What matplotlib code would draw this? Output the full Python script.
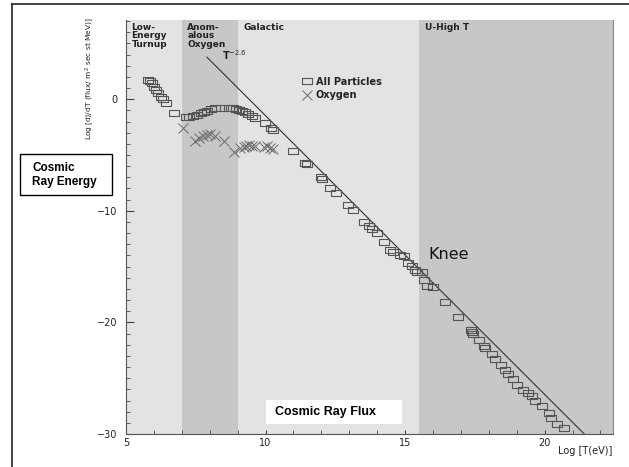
import matplotlib.pyplot as plt
from matplotlib.patches import Rectangle
from matplotlib.lines import Line2D
from matplotlib.ticker import MultipleLocator

# all particles, log10 T(eV) vs log flux
all_T = [5.80, 5.86, 5.92, 6.00, 6.08, 6.16, 6.24, 6.34, 6.43, 6.72,
         7.15, 7.27, 7.41, 7.53, 7.68, 7.80, 7.91, 8.04, 8.19, 8.39,
         8.70, 8.85, 8.94, 9.04, 9.15, 9.27, 9.38, 9.51, 9.62, 9.98,
         10.19, 10.26, 10.97, 11.42, 11.48, 11.98, 12.03, 12.31, 12.53, 12.97,
         13.13, 13.51, 13.69, 13.81, 13.99, 14.25, 14.46, 14.58, 14.82, 14.96,
         15.12, 15.24, 15.36, 15.44, 15.60, 15.68, 15.78, 16.01, 16.44, 16.90,
         17.35, 17.40, 17.45, 17.66, 17.83, 17.87, 18.11, 18.23, 18.43, 18.58,
         18.70, 18.88, 19.00, 19.22, 19.42, 19.54, 19.66, 19.90, 20.14, 20.22,
         20.44, 20.70]
all_flux = [1.73, 1.60, 1.43, 1.13, 0.83, 0.54, 0.23, 0.00, -0.30, -1.26,
            -1.61, -1.56, -1.47, -1.38, -1.26, -1.14, -1.02, -0.90, -0.81, -0.75,
            -0.75, -0.81, -0.87, -0.93, -1.02, -1.17, -1.32, -1.50, -1.70, -2.10,
            -2.60, -2.75, -4.61, -5.69, -5.85, -7.00, -7.15, -7.98, -8.43, -9.51,
            -9.93, -10.98, -11.36, -11.66, -12.02, -12.77, -13.52, -13.67, -13.96, -14.05,
            -14.71, -14.95, -15.31, -15.46, -15.46, -16.21, -16.74, -16.86, -18.15, -19.50,
            -20.69, -20.90, -21.08, -21.59, -22.13, -22.33, -22.84, -23.29, -23.83, -24.28,
            -24.66, -25.11, -25.62, -26.07, -26.37, -26.61, -27.03, -27.51, -28.16, -28.61,
            -29.12, -29.42]

oxy_T = [7.05, 7.47, 7.60, 7.75, 7.90, 8.02, 8.20, 8.52, 8.86, 9.10,
         9.22, 9.30, 9.40, 9.52, 9.62, 9.95, 10.05, 10.15, 10.25]
oxy_flux = [-2.60, -3.70, -3.50, -3.30, -3.20, -3.10, -3.30, -3.75, -4.75, -4.40,
            -4.30, -4.20, -4.10, -4.20, -4.20, -4.25, -4.20, -4.35, -4.45]

# T^-2.6 power-law guide
guide_T = [7.9, 21.42]
guide_flux = [3.77, -30.0]

# energy regions
region_edges = [(5, 7), (7, 9), (9, 15.5), (15.5, 22.45)]
region_names = ["Low-\nEnergy\nTurnup", "Anom-\nalous\nOxygen", "Galactic", "U-High T"]
region_colors = ["#e3e3e3", "#c7c7c7", "#e3e3e3", "#c7c7c7"]

fig = plt.figure(figsize=(6.29, 4.67), dpi=100)
ax = fig.add_axes([0.2003, 0.0707, 0.7743, 0.8865])

for (a, b), name, c in zip(region_edges, region_names, region_colors):
    ax.axvspan(a, b, color=c, lw=0, zorder=0)
    ax.text(a + 0.2, 6.85, name, fontsize=6.5, fontweight="bold", color="#222222",
            va="top", ha="left", linespacing=0.92, family="DejaVu Sans")

rect = [(-1, -0.65), (1, -0.65), (1, 0.65), (-1, 0.65), (-1, -0.65)]
ax.plot(all_T, all_flux, ls="none", marker=rect, ms=6.5, mfc="none", mec="#555555",
        mew=0.8, label="All Particles", zorder=3)
ax.plot(oxy_T, oxy_flux, ls="none", marker="x", ms=6.5, mec="#6a6a6a", mew=0.7,
        label="Oxygen", zorder=3)
ax.plot(guide_T, guide_flux, color="#333333", lw=0.8, zorder=2)

ax.text(8.44, 3.5, r"T$^{-2.6}$", fontsize=7, fontweight="bold", color="#222222",
        family="DejaVu Sans")
ax.text(15.82, -14.3, "Knee", fontsize=11.5, color="#111111", family="DejaVu Sans")

leg = ax.legend(loc="upper left", bbox_to_anchor=(0.352, 0.875), frameon=False,
                handlelength=1.0, handletextpad=0.4, labelspacing=0.35, borderpad=0,
                prop={"family": "DejaVu Sans", "weight": "bold", "size": 7})
for t in leg.get_texts():
    t.set_color("#222222")

ax.set_xlim(5, 22.45)
ax.set_ylim(-30, 7.1)
ax.xaxis.set_major_locator(MultipleLocator(5))
ax.xaxis.set_minor_locator(MultipleLocator(1))
ax.yaxis.set_major_locator(MultipleLocator(10))
ax.yaxis.set_minor_locator(MultipleLocator(1))
ax.tick_params(axis="both", which="both", direction="in", colors="#444444",
               labelsize=7, labelcolor="#222222")
ax.tick_params(axis="y", which="major", length=6, pad=6)
ax.tick_params(axis="y", which="minor", length=3)
ax.tick_params(axis="x", which="both", length=3, pad=3)
for lab in ax.get_xticklabels() + ax.get_yticklabels():
    lab.set_family("DejaVu Sans")
ax.set_yticks([0, -10, -20, -30])
ax.set_yticklabels(["0", "\u221210", "\u221220", "\u221230"])

ax.spines["top"].set_visible(False)
ax.spines["right"].set_color("#888888")
ax.spines["left"].set_color("#555555")
ax.spines["bottom"].set_color("#555555")

ax.text(-0.074, 0.859, "Log [dJ/dT (flux/ m$^2$ sec st MeV)]", transform=ax.transAxes,
        rotation=90, ha="center", va="center", fontsize=5.4, color="#222222",
        family="DejaVu Sans")
ax.text(0.998, -0.040, "Log [T(eV)]", transform=ax.transAxes, ha="right", va="center",
        fontsize=7, color="#222222", family="DejaVu Sans")

# outer frame (top and left edges only visible)
fig.add_artist(Line2D([0.0186, 1.0], [0.9914, 0.9914], color="#222222", lw=1.2))
fig.add_artist(Line2D([0.0186, 0.0186], [0.0, 0.9914], color="#222222", lw=1.2))

# annotation boxes
fig.add_artist(Rectangle((0.0318, 0.5824), 0.1463, 0.0878, facecolor="white",
                         edgecolor="black", lw=1.0, zorder=5))
fig.text(0.0509, 0.6253, "Cosmic\nRay Energy", fontsize=8.5, fontweight="bold",
         family="Liberation Sans", ha="left", va="center", linespacing=1.15, zorder=6)
fig.add_artist(Rectangle((0.4229, 0.0921), 0.2162, 0.0514, facecolor="white",
                         edgecolor="none", zorder=5))
fig.text(0.5175, 0.1178, "Cosmic Ray Flux", fontsize=9, fontweight="bold",
         family="Liberation Sans", ha="center", va="center", zorder=6)

fig.savefig("out.png", dpi=100)
